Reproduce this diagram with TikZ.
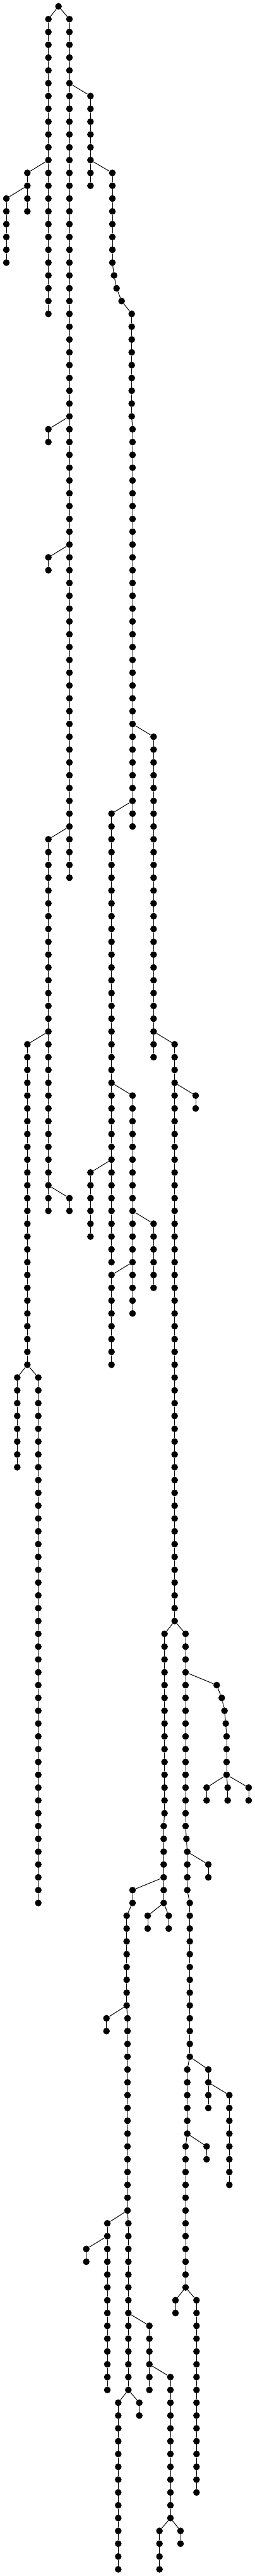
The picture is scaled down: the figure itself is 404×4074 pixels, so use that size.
\documentclass[tikz,border=0pt]{standalone}
\usepackage{tikz}
\tikzset{
  dot/.style={circle,fill=black,draw=none,inner sep=0pt,minimum size=10.6pt},
  edge/.style={line width=1pt,draw=black}
}
\newcommand\vchain[4]{%
  \foreach \k in {#3,...,#4}{%
    \node[dot] (#1-\k) at (#2,{10+20.267*\k}) {};
    \pgfmathtruncatemacro\prv{\k-1}%
    \ifcsname pgf@sh@ns@#1-\prv\endcsname
      \draw[edge] (#1-\prv) -- (#1-\k);
    \fi
  }%
}
\begin{document}
\begin{tikzpicture}[x=1pt,y=-1pt]
\fill[white] (0,0) rectangle (404,4074);
\useasboundingbox (0,0) rectangle (404,4074);
\node[dot] (R-0) at (92.67,10) {};
\vchain{A}{76.67}{1}{24}
\vchain{B}{110}{1}{68}
\draw[edge] (R-0) -- (A-1);
\draw[edge] (R-0) -- (B-1);
\vchain{Aa}{43.33}{13}{16}
\draw[edge] (A-12) -- (Aa-13);
\vchain{Ab}{10}{15}{20}
\draw[edge] (Aa-14) -- (Ab-15);
\vchain{C}{143.33}{7}{14}
\draw[edge] (B-6) -- (C-7);
\vchain{D}{76.67}{33}{34}
\draw[edge] (B-32) -- (D-33);
\vchain{E}{76.67}{43}{44}
\draw[edge] (B-42) -- (E-43);
\vchain{F}{76.67}{65}{94}
\draw[edge] (B-64) -- (F-65);
\vchain{G}{178}{13}{20}
\vchain{G}{180.67}{21}{21}
\vchain{G}{184.67}{22}{22}
\vchain{G}{192.67}{23}{23}
\vchain{G}{208.67}{24}{32}
\vchain{G}{210}{33}{64}
\draw[edge] (C-12) -- (G-13);
\vchain{H}{243.33}{57}{82}
\draw[edge] (G-56) -- (H-57);
\vchain{I}{176.67}{63}{98}
\draw[edge] (G-62) -- (I-63);
\vchain{J}{276.67}{81}{126}
\draw[edge] (H-80) -- (J-81);
\vchain{K}{210}{85}{102}
\draw[edge] (I-84) -- (K-85);
\vchain{L}{143.33}{91}{96}
\draw[edge] (I-90) -- (L-91);
\vchain{M}{310}{85}{86}
\draw[edge] (J-84) -- (M-85);
\vchain{O}{43.33}{81}{106}
\draw[edge] (F-80) -- (O-81);
\vchain{P}{110}{93}{94}
\draw[edge] (F-92) -- (P-93);
\vchain{Qa}{27.33}{107}{114}
\draw[edge] (O-106) -- (Qa-107);
\vchain{Qb}{60.67}{107}{148}
\draw[edge] (O-106) -- (Qb-107);
\vchain{S}{243.33}{95}{100}
\draw[edge] (K-94) -- (S-95);
\vchain{T}{176.67}{99}{106}
\draw[edge] (K-98) -- (T-99);
\vchain{Na}{260.67}{127}{141}
\vchain{Na}{259.33}{142}{148}
\draw[edge] (J-126) -- (Na-127);
\vchain{Nb}{294}{127}{142}
\vchain{Nb}{295.33}{143}{143}
\vchain{Nb}{296.67}{144}{147}
\vchain{Nb}{300.67}{148}{160}
\draw[edge] (J-126) -- (Nb-127);
\vchain{U}{210}{147}{148}
\vchain{U}{200.67}{149}{156}
\vchain{U}{202}{157}{172}
\vchain{U}{203.33}{173}{186}
\draw[edge] (Na-146) -- (U-147);
\vchain{Va}{234}{149}{150}
\draw[edge] (Na-148) -- (Va-149);
\vchain{Vb}{267.33}{149}{150}
\draw[edge] (Na-148) -- (Vb-149);
\vchain{W}{168.67}{157}{158}
\draw[edge] (U-156) -- (W-157);
\vchain{X}{170}{173}{186}
\draw[edge] (U-172) -- (X-173);
\vchain{Xb}{136.67}{175}{176}
\draw[edge] (X-174) -- (Xb-175);
\vchain{Y}{236.67}{181}{186}
\draw[edge] (U-180) -- (Y-181);
\vchain{Z}{270}{185}{196}
\draw[edge] (Y-184) -- (Z-185);
\vchain{AAa}{187.33}{187}{200}
\draw[edge] (U-186) -- (AAa-187);
\vchain{AAb}{220.67}{187}{188}
\draw[edge] (U-186) -- (AAb-187);
\vchain{Za}{252.67}{197}{200}
\draw[edge] (Z-196) -- (Za-197);
\vchain{Zb}{286}{197}{198}
\draw[edge] (Z-196) -- (Zb-197);
\vchain{Nx}{343.33}{131}{131}
\vchain{Nx}{351.33}{132}{132}
\vchain{Nx}{355.67}{133}{133}
\vchain{Nx}{357.67}{134}{134}
\vchain{Nx}{359}{135}{138}
\draw[edge] (Nb-130) -- (Nx-131);
\vchain{Nxa}{327.33}{139}{140}
\vchain{Nxb}{360.67}{139}{140}
\vchain{Nxc}{394}{139}{140}
\draw[edge] (Nx-138) -- (Nxa-139);
\draw[edge] (Nx-138) -- (Nxb-139);
\draw[edge] (Nx-138) -- (Nxc-139);
\vchain{NC}{330}{145}{146}
\draw[edge] (Nb-144) -- (NC-145);
\vchain{Nc}{296.67}{161}{166}
\draw[edge] (Nb-160) -- (Nc-161);
\vchain{Nd}{330}{161}{164}
\draw[edge] (Nb-160) -- (Nd-161);
\vchain{Ne}{363.33}{163}{170}
\draw[edge] (Nd-162) -- (Ne-163);
\vchain{Nf}{294}{167}{178}
\draw[edge] (Nc-166) -- (Nf-167);
\vchain{Ng}{327.33}{167}{168}
\draw[edge] (Nc-166) -- (Ng-167);
\vchain{Nh}{278}{179}{180}
\draw[edge] (Nf-178) -- (Nh-179);
\vchain{Ni}{311.33}{179}{194}
\draw[edge] (Nf-178) -- (Ni-179);
\end{tikzpicture}
\end{document}
